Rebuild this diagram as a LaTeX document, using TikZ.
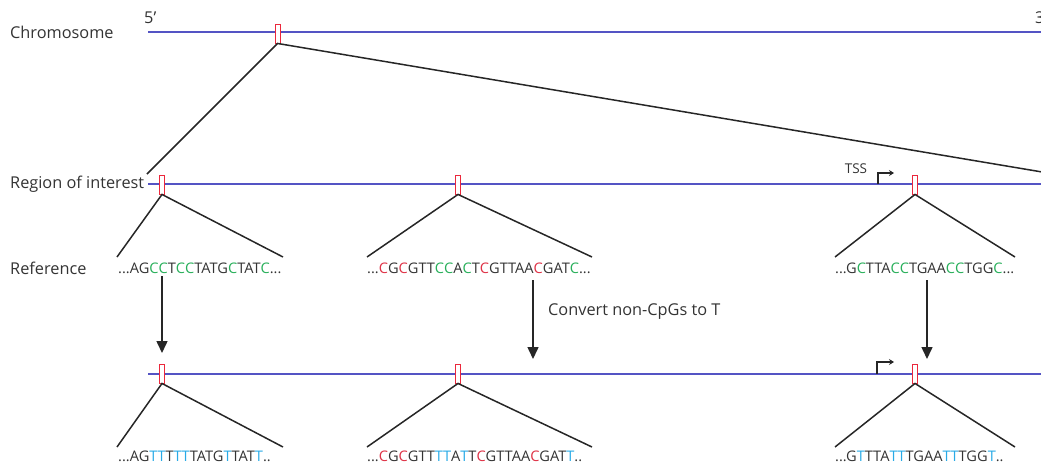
\documentclass[tikz,border=0pt]{standalone}
\usepackage{fontspec}
\setmainfont{Open Sans}
\usetikzlibrary{arrows.meta}
\definecolor{lineblue}{RGB}{84,84,196}
\definecolor{sitered}{RGB}{235,40,60}
\definecolor{cpgred}{RGB}{222,50,70}
\definecolor{cgreen}{RGB}{40,175,90}
\definecolor{tblue}{RGB}{40,170,230}
\newcommand\redC{\textcolor{cpgred}{C}}
\newcommand\grnC{\textcolor{cgreen}{C}}
\newcommand\bluT{\textcolor{tblue}{T}}

\begin{document}
\begin{tikzpicture}[x=1pt, y=-1pt,
  strand/.style={draw=lineblue, line width=1.8pt},
  site/.style={draw=sitered, line width=0.9pt, fill=white, minimum width=5pt, minimum height=19pt, inner sep=0pt},
  leg/.style={line width=1.5pt, black!85},
  rowlabel/.style={font=\fontsize{16.3}{19}\selectfont, anchor=west, inner sep=0pt, text=black!80},
  seq/.style={font=\fontsize{14.6}{17}\selectfont, anchor=west, inner sep=0pt, text=black!80},
  conv/.style={line width=1.5pt, black!85, -{Triangle[length=12pt,width=11pt]}},
  tssarrow/.style={line width=1.1pt, black!85, -{Stealth[length=5pt,width=6pt]}}]
  \useasboundingbox (0,0) rectangle (1041,464);
  % chromosome
  \node (chrom) [rowlabel] at (10,32) {Chromosome};
  \coordinate (c5) at (148,32);
  \coordinate (c3) at (1060,32);
  \draw [strand] (c5) -- (c3);
  \node (p5) [rowlabel] at (144,18) {5’};
  \node (p3) [rowlabel] at (1035,18) {3’};
  % region of interest
  \node (roi) [rowlabel] at (10,184) {Region of interest};
  \coordinate (r5) at (148,184);
  \coordinate (r3) at (1060,184);
  \draw [strand] (r5) -- (r3);
  \coordinate (zoomL) at (147,174);
  \coordinate (zoomR) at (1060,175);
  \node (chsite) [site] at (277.5,33.5) {};
  \draw [leg] (zoomL) -- (chsite.south) -- (zoomR);
  \node (tss) [font=\fontsize{13.5}{15}\selectfont, text=black!80, inner sep=0pt] at (856,169) {TSS};
  \coordinate (tss1) at (878,184);
  \coordinate (tss1e) at (894,173);
  \draw [tssarrow] (tss1) |- (tss1e);
  \node (roi1) [site] at (162,184.5) {};
  \node (roi2) [site] at (458,184.5) {};
  \node (roi3) [site] at (915,184.5) {};
  \coordinate (refL1) at (117,257);
  \coordinate (refR1) at (283,257);
  \coordinate (refL2) at (367,257);
  \coordinate (refR2) at (592,257);
  \coordinate (refL3) at (835,257);
  \coordinate (refR3) at (1015,257);
  \draw [leg] (refL1) -- (roi1.south) -- (refR1);
  \draw [leg] (refL2) -- (roi2.south) -- (refR2);
  \draw [leg] (refL3) -- (roi3.south) -- (refR3);
  % reference sequences
  \node (ref) [rowlabel] at (10,268) {Reference};
  \node (ref1) [seq] at (118,268) {...AG\grnC\grnC T\grnC\grnC TATG\grnC TAT\grnC...};
  \node (ref2) [seq] at (367,268) {...\redC G\redC GTT\grnC\grnC A\grnC T\redC GTTAA\redC GAT\grnC...};
  \node (ref3) [seq] at (835,268) {...G\grnC TTA\grnC\grnC TGAA\grnC\grnC TGG\grnC...};
  % conversion
  \coordinate (a1s) at (162,276);
  \coordinate (a1e) at (162,353);
  \coordinate (a2s) at (533,280);
  \coordinate (a2e) at (533,359);
  \coordinate (a3s) at (927,280);
  \coordinate (a3e) at (927,359);
  \draw [conv] (a1s) -- (a1e);
  \draw [conv] (a2s) -- (a2e);
  \draw [conv] (a3s) -- (a3e);
  \node (convert) [rowlabel] at (548,312) {Convert non-CpGs to T};
  % converted strand
  \coordinate (b5) at (148,374);
  \coordinate (b3) at (1060,374);
  \draw [strand] (b5) -- (b3);
  \coordinate (tss2) at (877,374);
  \coordinate (tss2e) at (894,362);
  \draw [tssarrow] (tss2) |- (tss2e);
  \node (bis1) [site] at (162,373.5) {};
  \node (bis2) [site] at (458,373.5) {};
  \node (bis3) [site] at (915,373.5) {};
  \coordinate (bisL1) at (117,447);
  \coordinate (bisR1) at (283,447);
  \coordinate (bisL2) at (367,447);
  \coordinate (bisR2) at (592,447);
  \coordinate (bisL3) at (835,447);
  \coordinate (bisR3) at (1015,447);
  \draw [leg] (bisL1) -- (bis1.south) -- (bisR1);
  \draw [leg] (bisL2) -- (bis2.south) -- (bisR2);
  \draw [leg] (bisL3) -- (bis3.south) -- (bisR3);
  \node (conv1) [seq] at (118,456) {...AG\bluT\bluT T\bluT\bluT TATG\bluT TAT\bluT..};
  \node (conv2) [seq] at (367,456) {...\redC G\redC GTT\bluT\bluT A\bluT T\redC GTTAA\redC GAT\bluT..};
  \node (conv3) [seq] at (835,456) {...G\bluT TTA\bluT\bluT TGAA\bluT\bluT TGG\bluT..};
\end{tikzpicture}
\end{document}
